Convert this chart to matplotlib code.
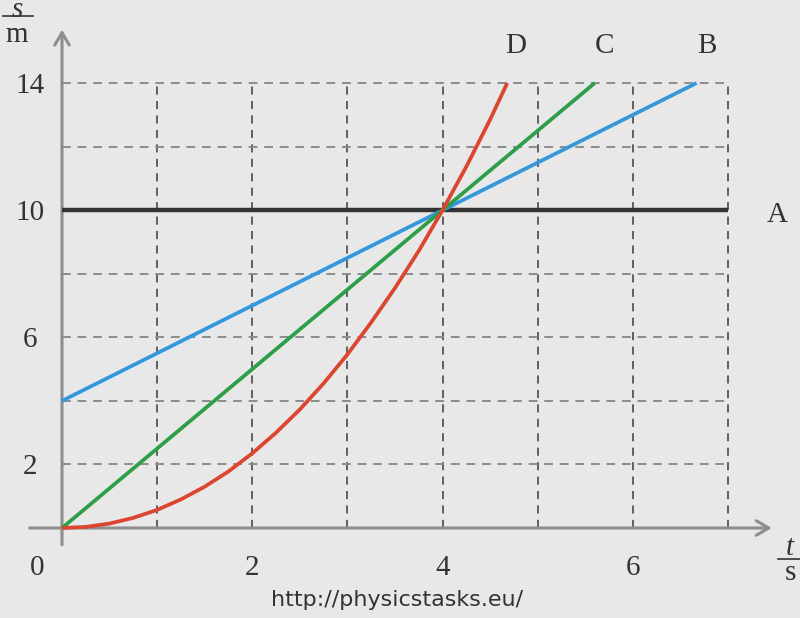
import matplotlib
matplotlib.use("Agg")
import matplotlib.pyplot as plt

# ---- data ----
A_t = [0, 7]
A_s = [10, 10]
B_t = [0, 6.67]
B_s = [4, 14]
C_t = [0, 5.6]
C_s = [0, 14]
D_t = [0, 0.25, 0.5, 0.75, 1, 1.25, 1.5, 1.75, 2, 2.25, 2.5, 2.75, 3,
       3.25, 3.5, 3.75, 4, 4.25, 4.5, 4.68]
D_s = [0, 0.035, 0.14, 0.32, 0.57, 0.9, 1.3, 1.78, 2.35, 3.0, 3.73, 4.55,
       5.46, 6.47, 7.55, 8.72, 10, 11.37, 12.85, 14]
x_ticks = [2, 4, 6]
y_ticks = [2, 6, 10, 14]
x_grid = [1, 2, 3, 4, 5, 6, 7]
y_grid = [2, 4, 6, 8, 10, 12, 14]
line_labels = ["A", "B", "C", "D"]
footer = "http://physicstasks.eu/"

BG = "#e8e8e8"
fig = plt.figure(figsize=(8, 6.18), dpi=100, facecolor=BG)
ax = fig.add_axes([0, 0, 1, 1])
ax.set_facecolor(BG)
ax.axis("off")
ax.set_xlim(-62 / 95.14, (800 - 62) / 95.14)
ax.set_ylim((528 - 618) / 31.786, 528 / 31.786)

serif = ["Liberation Serif", "DejaVu Serif"]

# grid
for xg in x_grid:
    ax.plot([xg, xg], [0, 14], color="#555555", lw=1.3, dashes=(4.5, 3.5), zorder=1)
for yg in y_grid:
    ax.plot([0, 7], [yg, yg], color="#8c8c8c", lw=1.4, dashes=(4.5, 3.5), zorder=1)

# axes with arrows
axis_col = "#8e8e8e"
ax.annotate("", xy=(0, 15.68), xytext=(0, -0.53),
            arrowprops=dict(arrowstyle="->,head_length=0.6,head_width=0.35",
                            color=axis_col, lw=2.2, mutation_scale=15,
                            shrinkA=0, shrinkB=0), zorder=2)
ax.annotate("", xy=(7.46, 0), xytext=(-0.34, 0),
            arrowprops=dict(arrowstyle="->,head_length=0.6,head_width=0.35",
                            color=axis_col, lw=2.2, mutation_scale=15,
                            shrinkA=0, shrinkB=0), zorder=2)

# series
ax.plot(A_t, A_s, color="#333333", lw=3.2, solid_capstyle="butt", zorder=3)
ax.plot(B_t, B_s, color="#3498db", lw=2.7, solid_capstyle="butt", zorder=4)
ax.plot(C_t, C_s, color="#2e9e48", lw=2.7, solid_capstyle="butt", zorder=5)
ax.plot(D_t, D_s, color="#dc4530", lw=2.7, solid_capstyle="butt",
        solid_joinstyle="round", zorder=6)

# tick labels
fs = 21
tc = "#333333"
for yt in y_ticks:
    ax.text(-0.336, yt, str(yt), ha="center", va="center_baseline",
            fontsize=fs, family=serif, color=tc)
for xt in x_ticks:
    ax.text(xt, -1.16, str(xt), ha="center", va="center_baseline",
            fontsize=fs, family=serif, color=tc)
ax.text(-0.263, -1.16, "0", ha="center", va="center_baseline",
        fontsize=fs, family=serif, color=tc)

# line labels
ax.text(7.515, 9.94, line_labels[0], ha="center", va="center_baseline", fontsize=fs, family=serif, color=tc)
ax.text(6.78, 15.26, line_labels[1], ha="center", va="center_baseline", fontsize=fs, family=serif, color=tc)
ax.text(5.707, 15.26, line_labels[2], ha="center", va="center_baseline", fontsize=fs, family=serif, color=tc)
ax.text(4.772, 15.26, line_labels[3], ha="center", va="center_baseline", fontsize=fs, family=serif, color=tc)

# axis unit fractions
ax.text(-0.473, 16.38, "s", ha="center", va="center_baseline", fontsize=fs,
        family=serif, style="italic", color=tc)
ax.plot([-0.62, -0.305], [16.11, 16.11], color=tc, lw=1.2)
ax.text(-0.473, 15.62, "m", ha="center", va="center_baseline", fontsize=fs,
        family=serif, color=tc)

ax.text(7.652, -0.52, "t", ha="center", va="center_baseline", fontsize=fs,
        family=serif, style="italic", color=tc)
ax.plot([7.526, 7.76], [-0.975, -0.975], color=tc, lw=1.2)
ax.text(7.652, -1.33, "s", ha="center", va="center_baseline", fontsize=fs,
        family=serif, color=tc)

# footer
ax.text(3.521, -2.2, footer, ha="center", va="center_baseline", fontsize=16,
        family=["DejaVu Sans"], color="#333333")

fig.savefig("out.png", dpi=100, facecolor=BG)
